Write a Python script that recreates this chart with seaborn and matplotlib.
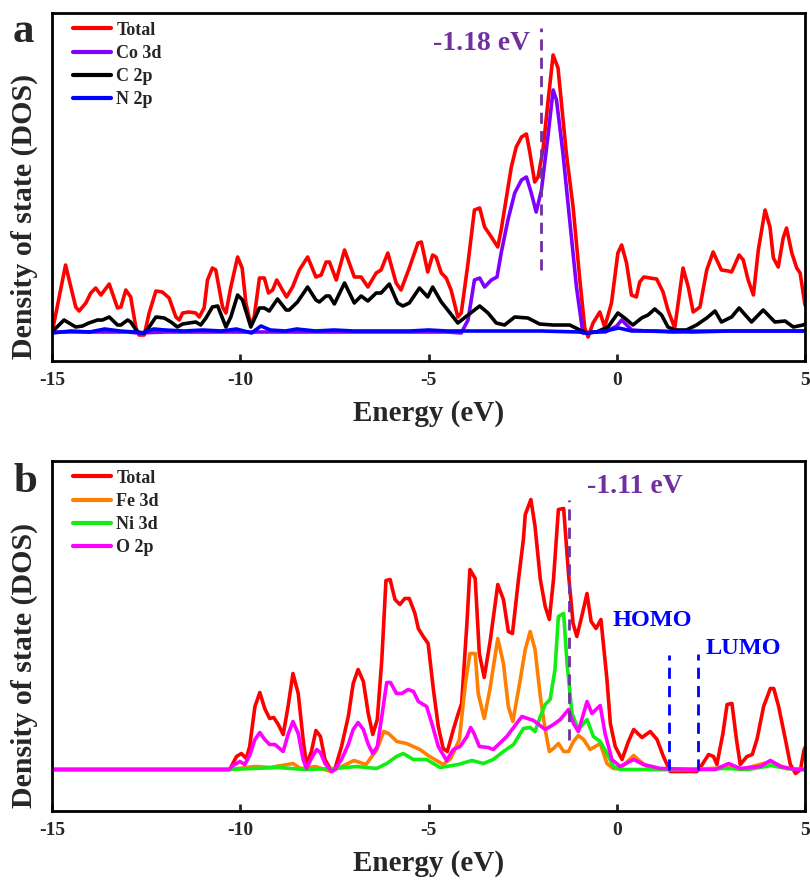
import matplotlib
matplotlib.use("Agg")
import matplotlib.pyplot as plt
import numpy as np
import pandas as pd
import seaborn as sns

# ---------------- panel a data (energy in eV, DOS in arb. units) ----------------
a_total_E = [-15.0,-14.64,-14.37,-14.28,-14.10,-13.97,-13.84,-13.70,-13.48,-13.26,
             -13.17,-13.04,-12.91,-12.77,-12.69,-12.55,-12.42,-12.24,-12.07,-11.89,
             -11.71,-11.62,-11.53,-11.36,-11.18,-11.09,-10.96,-10.87,-10.74,-10.65,
             -10.47,-10.38,-10.25,-10.07,-9.95,-9.85,-9.72,-9.63,-9.49,-9.36,
             -9.25,-9.14,-9.03,-8.88,-8.77,-8.61,-8.43,-8.21,-7.99,-7.85,
             -7.72,-7.63,-7.45,-7.23,-6.97,-6.79,-6.61,-6.39,-6.26,-6.08,
             -5.86,-5.73,-5.51,-5.28,-5.19,-5.02,-4.89,-4.80,-4.66,-4.53,
             -4.40,-4.22,-4.13,-3.95,-3.78,-3.64,-3.51,-3.33,-3.16,-3.07,
             -2.80,-2.67,-2.53,-2.40,-2.31,-2.18,-2.09,-1.96,-1.83,-1.69,
             -1.56,-1.34,-1.16,-0.98,-0.85,-0.76,-0.63,-0.45,-0.32,-0.14,
             0.03,0.13,0.26,0.39,0.52,0.61,0.72,0.88,1.06,1.23,
             1.36,1.54,1.76,1.90,2.03,2.21,2.39,2.56,2.78,2.96,
             3.05,3.25,3.36,3.49,3.63,3.76,3.94,4.07,4.16,4.29,
             4.42,4.51,4.65,4.78,4.87,5.0]
a_total_D = [-0.1,6.7,2.5,2.1,2.9,3.9,4.4,3.7,4.8,2.4,
             2.5,4.2,3.5,0.4,-0.3,-0.3,1.9,4.1,4.0,3.4,
             1.5,1.2,1.9,2.0,1.9,1.5,2.4,5.2,6.4,6.2,
             2.5,1.9,4.5,7.5,6.4,2.9,0.7,1.5,5.4,5.4,
             3.9,4.2,5.2,4.2,3.5,4.5,6.2,7.5,5.5,5.7,
             7.0,7.0,5.2,8.2,5.5,5.5,4.5,5.9,6.2,7.9,
             4.9,4.2,6.4,8.9,9.0,6.0,7.7,7.5,5.9,5.4,
             4.2,1.5,1.9,6.9,12.2,12.4,10.5,9.5,8.5,10.2,
             16.5,18.5,19.5,19.8,18.0,15.0,15.5,18.2,22.9,27.7,
             26.4,17.9,12.5,5.2,0.4,-0.5,0.9,2.0,0.5,2.9,
             7.9,8.7,6.9,3.7,3.5,5.0,5.5,5.4,5.3,4.0,
             2.2,0.4,6.4,4.5,2.0,2.5,6.2,8.0,6.2,6.1,
             6.0,7.7,7.2,5.2,3.7,8.2,12.2,10.5,7.4,6.5,
             9.4,10.4,7.9,6.4,5.9,2.7]

a_co3d_E = [-15.0,-14.0,-13.0,-12.7,-12.0,-11.0,-10.0,-9.0,-8.0,-7.0,
            -6.0,-5.0,-4.5,-4.13,-3.95,-3.78,-3.64,-3.51,-3.33,-3.18,
            -3.07,-2.89,-2.71,-2.53,-2.40,-2.27,-2.14,-2.00,-1.83,-1.69,
            -1.60,-1.43,-1.25,-1.07,-0.90,-0.6,-0.3,0.0,0.13,0.4,
            0.8,1.5,2.0,3.0,4.0,5.0]
a_co3d_D = [0.0,0.0,0.0,-0.1,0.0,0.0,0.0,0.0,0.0,0.0,
            0.0,0.0,0.0,-0.1,1.2,5.2,5.4,4.5,5.2,5.5,
            7.9,11.2,13.9,15.2,15.5,13.9,12.0,14.2,19.5,24.2,
            23.2,17.9,11.2,4.5,-0.1,0.0,0.0,0.6,1.2,0.2,
            0.1,0.0,0.1,0.1,0.1,0.1]

a_c2p_E = [-15.0,-14.68,-14.55,-14.37,-14.19,-14.02,-13.79,-13.66,-13.48,-13.26,
           -13.17,-12.99,-12.91,-12.73,-12.55,-12.42,-12.24,-12.02,-11.84,-11.67,
           -11.53,-11.36,-11.18,-11.05,-10.91,-10.74,-10.60,-10.38,-10.25,-10.07,
           -9.94,-9.72,-9.49,-9.36,-9.23,-9.01,-8.78,-8.70,-8.48,-8.21,
           -7.99,-7.90,-7.72,-7.63,-7.50,-7.23,-6.97,-6.79,-6.61,-6.39,
           -6.26,-6.04,-5.82,-5.68,-5.51,-5.24,-5.02,-4.89,-4.66,-4.49,
           -4.22,-3.95,-3.64,-3.42,-3.20,-2.98,-2.71,-2.36,-2.05,-1.69,
           -1.25,-0.98,-0.81,-0.54,-0.23,0.03,0.21,0.43,0.66,0.83,
           1.01,1.19,1.36,1.54,1.85,2.12,2.39,2.61,2.78,3.05,
           3.25,3.58,3.89,4.20,4.47,4.69,4.95,5.0]
a_c2p_D = [0.0,1.2,0.9,0.5,0.6,0.9,1.2,1.2,1.5,0.7,
           0.7,1.2,1.0,0.0,-0.1,0.5,1.5,1.4,1.0,0.5,
           0.8,0.9,1.0,0.7,1.4,2.5,2.6,0.5,1.5,3.7,
           3.2,0.5,2.4,2.4,2.1,3.3,2.2,2.2,3.0,4.5,
           3.2,3.0,3.6,3.6,2.8,4.9,2.9,3.6,3.1,3.9,
           3.9,4.8,2.9,2.6,2.9,4.4,3.5,4.5,3.0,2.2,
           0.9,1.7,2.6,1.9,0.9,0.7,1.5,1.4,0.8,0.7,
           0.7,0.2,-0.1,0.0,0.5,1.9,1.4,0.7,1.4,1.7,
           2.3,1.7,0.5,0.2,0.2,0.7,1.4,2.1,1.0,1.5,
           2.4,1.0,2.2,1.0,1.1,0.5,0.7,0.8]

a_n2p_E = [-15,-14.5,-14.0,-13.6,-13.2,-12.8,-12.6,-12.3,-12.0,-11.5,
           -11.0,-10.5,-10.1,-9.7,-9.45,-9.2,-8.8,-8.5,-8.0,-7.5,
           -7.0,-6.5,-6.0,-5.5,-5.0,-4.5,-4.0,-3.0,-2.0,-1.0,
           -0.8,-0.3,0.05,0.4,1.0,2.0,3.0,4.0,5.0]
a_n2p_D = [-0.1,0.1,0.0,0.3,0.1,0.0,-0.1,0.3,0.2,0.1,
           0.2,0.1,0.3,-0.1,0.6,0.2,0.1,0.3,0.1,0.2,
           0.1,0.1,0.1,0.1,0.2,0.1,0.1,0.1,0.1,0.0,
           -0.1,0.1,0.4,0.1,0.1,0.0,0.1,0.1,0.1]

# ---------------- panel b data ----------------
b_total_E = [-15.0,-10.28,-10.10,-9.97,-9.84,-9.75,-9.61,-9.48,-9.35,-9.22,
             -9.11,-8.99,-8.86,-8.73,-8.60,-8.46,-8.33,-8.24,-8.11,-7.99,
             -7.87,-7.75,-7.57,-7.49,-7.31,-7.13,-7.00,-6.87,-6.73,-6.60,
             -6.48,-6.36,-6.24,-6.13,-6.02,-5.89,-5.76,-5.63,-5.51,-5.36,
             -5.27,-5.14,-5.01,-4.87,-4.74,-4.61,-4.50,-4.34,-4.21,-4.12,
             -3.98,-3.90,-3.76,-3.65,-3.52,-3.36,-3.16,-3.01,-2.88,-2.77,
             -2.61,-2.48,-2.43,-2.28,-2.17,-2.03,-1.90,-1.79,-1.68,-1.55,
             -1.41,-1.28,-1.16,-1.06,-0.93,-0.79,-0.68,-0.55,-0.42,-0.26,
             -0.17,-0.04,0.14,0.31,0.45,0.67,0.89,1.07,1.24,1.42,
             2.13,2.27,2.44,2.57,2.66,2.82,2.93,3.06,3.18,3.28,
             3.46,3.60,3.73,3.90,4.08,4.17,4.30,4.48,4.61,4.75,
             4.88,4.97,5.0]
b_total_D = [0.0,0.0,1.3,1.6,1.1,2.3,6.3,7.7,6.1,5.1,
             5.2,4.5,3.5,6.3,9.6,7.6,3.0,0.5,1.8,3.9,
             3.3,1.0,-0.2,0.0,2.3,5.3,8.6,10.0,8.8,5.6,
             3.5,5.0,11.0,18.9,19.0,17.0,16.5,17.1,17.1,15.6,
             14.1,13.3,12.6,8.0,4.3,2.1,1.8,4.0,5.6,6.6,
             14.6,20.0,19.1,11.6,9.2,12.9,18.5,17.0,13.8,13.6,
             19.0,23.0,25.5,27.0,24.3,19.0,16.3,15.0,19.0,26.0,
             26.1,19.5,14.6,13.3,15.3,17.6,14.8,14.1,15.0,9.0,
             4.6,2.3,1.0,2.8,4.0,3.2,3.8,3.0,1.3,-0.2,
             -0.2,0.5,1.5,1.3,0.5,3.6,6.5,6.6,3.0,0.5,
             1.3,1.5,3.1,6.3,8.1,8.1,6.3,3.0,0.5,-0.4,
             0.0,1.9,2.2]

b_fe3d_E = [-15.0,-10.3,-9.6,-9.2,-8.6,-8.4,-8.0,-7.6,-7.3,-6.98,
            -6.66,-6.37,-6.19,-6.06,-5.84,-5.58,-5.23,-4.97,-4.61,-4.41,
            -4.18,-4.02,-3.90,-3.76,-3.68,-3.52,-3.37,-3.16,-3.01,-2.88,
            -2.76,-2.58,-2.43,-2.30,-2.17,-2.03,-1.90,-1.79,-1.68,-1.55,
            -1.41,-1.28,-1.15,-1.02,-0.88,-0.71,-0.57,-0.44,-0.26,-0.09,
            0.09,0.45,0.63,0.9,1.5,2.0,3.0,3.3,4.1,4.5,5.0]
b_fe3d_D = [0.0,0.0,0.3,0.2,0.6,0.1,0.3,-0.2,0.3,0.9,
            0.5,2.0,3.8,3.6,2.8,2.6,2.0,1.3,0.5,1.1,
            3.0,8.6,11.6,11.6,7.6,5.1,8.0,13.1,10.6,6.3,
            4.8,8.6,12.0,13.8,12.0,7.3,4.0,1.8,2.1,2.6,
            1.8,1.8,2.8,3.4,3.0,2.0,2.3,2.6,0.6,0.1,
            0.1,1.4,0.8,0.0,0.0,0.0,0.2,0.0,0.8,0.1,0.0]

b_ni3d_E = [-15.0,-10.3,-9.0,-8.3,-7.5,-6.91,-6.38,-6.11,-5.85,-5.67,
            -5.40,-5.05,-4.69,-4.21,-3.85,-3.54,-3.28,-3.01,-2.74,-2.48,
            -2.30,-2.17,-2.03,-1.90,-1.77,-1.64,-1.55,-1.41,-1.32,-1.19,
            -1.02,-0.79,-0.62,-0.44,-0.26,-0.09,0.09,1.0,2.0,2.9,
            3.5,4.1,4.5,5.0]
b_ni3d_D = [0.0,0.0,0.2,0.0,0.1,0.3,0.1,0.6,1.3,1.6,
            1.0,1.0,0.2,0.5,0.9,0.6,1.0,1.8,2.5,4.1,
            4.2,3.8,5.3,6.5,7.0,10.0,15.3,15.6,10.6,5.6,
            4.0,5.0,3.3,2.8,1.6,0.3,0.0,0.0,0.0,0.1,
            0.0,0.4,0.1,0.0]

b_o2p_E = [-15.0,-10.3,-10.19,-10.01,-9.88,-9.75,-9.61,-9.48,-9.35,-9.22,
           -9.08,-8.86,-8.73,-8.60,-8.46,-8.33,-8.24,-8.11,-7.97,-7.87,
           -7.75,-7.57,-7.49,-7.31,-7.13,-7.00,-6.87,-6.73,-6.60,-6.48,
           -6.36,-6.24,-6.11,-6.01,-5.85,-5.71,-5.54,-5.40,-5.27,-5.05,
           -4.91,-4.74,-4.52,-4.34,-4.16,-3.98,-3.88,-3.79,-3.65,-3.41,
           -3.28,-2.92,-2.52,-2.21,-1.90,-1.68,-1.50,-1.28,-1.15,-1.02,
           -0.79,-0.66,-0.44,-0.31,-0.13,0.09,0.45,0.71,1.16,2.22,
           2.62,2.97,3.28,3.82,4.08,4.35,4.75,5.0]
b_o2p_D = [0.0,0.0,0.4,0.8,0.5,1.4,3.0,3.7,3.0,2.5,
           2.5,1.8,3.5,4.8,3.6,1.0,0.1,1.1,2.0,1.7,
           0.6,-0.2,0.0,1.0,2.5,4.0,4.7,4.0,2.5,1.6,
           2.3,5.3,8.7,8.7,7.6,7.6,8.0,7.8,6.8,6.3,
           4.6,2.3,0.9,2.0,2.3,3.3,4.2,3.6,2.3,2.2,
           2.0,3.3,5.3,4.9,4.0,4.5,5.0,6.0,4.6,3.8,
           6.8,5.6,6.4,3.6,1.0,0.3,1.0,0.5,0.1,0.0,
           0.0,0.6,0.1,0.3,0.9,0.3,0.0,0.0]

# ---------------- labels / annotations ----------------
a_labels = ["Total", "Co 3d", "C 2p", "N 2p"]
a_colors = ["#FF0000", "#8000FF", "#000000", "#0000FF"]
b_labels = ["Total", "Fe 3d", "Ni 3d", "O 2p"]
b_colors = ["#FF0000", "#FF8000", "#11EE11", "#FF00FF"]
xtick_vals = [-15, -10, -5, 0, 5]
xtick_labels = ["-15", "-10", "-5", "0", "5"]
a_center_E, a_center_text = -2.00, "-1.18 eV"
b_center_E, b_center_text = -1.28, "-1.11 eV"
homo_E, lumo_E = 1.40, 2.15

sns.set_style("white")
plt.rcParams["font.family"] = ["Liberation Serif", "DejaVu Serif"]
plt.rcParams["font.weight"] = "bold"

fig = plt.figure(figsize=(8.10, 8.84), dpi=100)
W, H = 810.0, 884.0
ax_a = fig.add_axes([52 / W, 1 - 361 / H, (805 - 52) / W, (361 - 13) / H])
ax_b = fig.add_axes([52 / W, 1 - 810.5 / H, (805 - 52) / W, (810.5 - 461) / H])

LW = 2.6


def draw(ax, Es, Ds, labels, colors):
    for E, D, lab, col in zip(Es, Ds, labels, colors):
        df = pd.DataFrame({"E": E, "DOS": D})
        sns.lineplot(data=df, x="E", y="DOS", ax=ax, color=col, lw=LW,
                     label=lab, estimator=None, sort=False)


draw(ax_a, [a_total_E, a_co3d_E, a_c2p_E, a_n2p_E],
     [a_total_D, a_co3d_D, a_c2p_D, a_n2p_D], a_labels, a_colors)
draw(ax_b, [b_total_E, b_fe3d_E, b_ni3d_E, b_o2p_E],
     [b_total_D, b_fe3d_D, b_ni3d_D, b_o2p_D], b_labels, b_colors)

ax_a.set_ylim(-2.9, 31.9)
ax_b.set_ylim(-4.1, 30.85)

purple = "#7030A0"
ax_a.plot([a_center_E, a_center_E], [6.2, 30.4], color=purple, lw=2.0,
          dashes=(4, 2.6), zorder=5)
ax_a.text(-4.87, 28.9, a_center_text, color=purple, fontsize=20,
          fontweight="bold", ha="left", va="center")
ax_b.plot([b_center_E, b_center_E], [2.95, 26.95], color=purple, lw=2.0,
          dashes=(4, 2.6), zorder=5)
ax_b.text(-0.78, 28.3, b_center_text, color=purple, fontsize=20,
          fontweight="bold", ha="left", va="center")
ax_b.plot([homo_E, homo_E], [-0.05, 11.45], color="#0000FF", lw=2.0,
          dashes=(4, 2.6), zorder=5)
ax_b.plot([lumo_E, lumo_E], [0.0, 11.6], color="#0000FF", lw=2.0,
          dashes=(4, 2.6), zorder=5)
ax_b.text(-0.12, 14.95, "HOMO", color="#0000FF", fontsize=17.5,
          fontweight="bold", ha="left", va="center")
ax_b.text(2.35, 12.15, "LUMO", color="#0000FF", fontsize=17.5,
          fontweight="bold", ha="left", va="center")

for ax in (ax_a, ax_b):
    ax.set_xlim(-15, 5)
    ax.set_xticks(xtick_vals)
    ax.set_xticklabels(xtick_labels, fontsize=14, fontweight="bold")
    ax.set_yticks([])
    ax.tick_params(axis="x", direction="in", length=5, width=2, pad=8,
                   top=False, bottom=True)
    for sp in ax.spines.values():
        sp.set_visible(True)
        sp.set_linewidth(2.0)
        sp.set_color("black")
    ax.set_xlabel("Energy (eV)", fontsize=21, fontweight="bold", labelpad=8)
    ax.set_ylabel("Density of state (DOS)", fontsize=21.5, fontweight="bold")
    ax.yaxis.set_label_coords(-0.018, 0.415)
    leg = ax.legend(loc="upper left", bbox_to_anchor=(0.028, 0.975),
                    frameon=False, prop={"size": 13, "weight": "bold"},
                    handlelength=2.1, handletextpad=0.3, labelspacing=0.34,
                    borderpad=0.0, borderaxespad=0.0)
    for ln in leg.get_lines():
        ln.set_linewidth(3.0)

fig.text(13 / W, 1 - 41.5 / H, "a", fontsize=31, fontweight="bold",
         ha="left", va="baseline")
fig.text(13 / W, 1 - 491.5 / H, "b", fontsize=31, fontweight="bold",
         ha="left", va="baseline")

fig.savefig("out.png", dpi=100, facecolor="white")
